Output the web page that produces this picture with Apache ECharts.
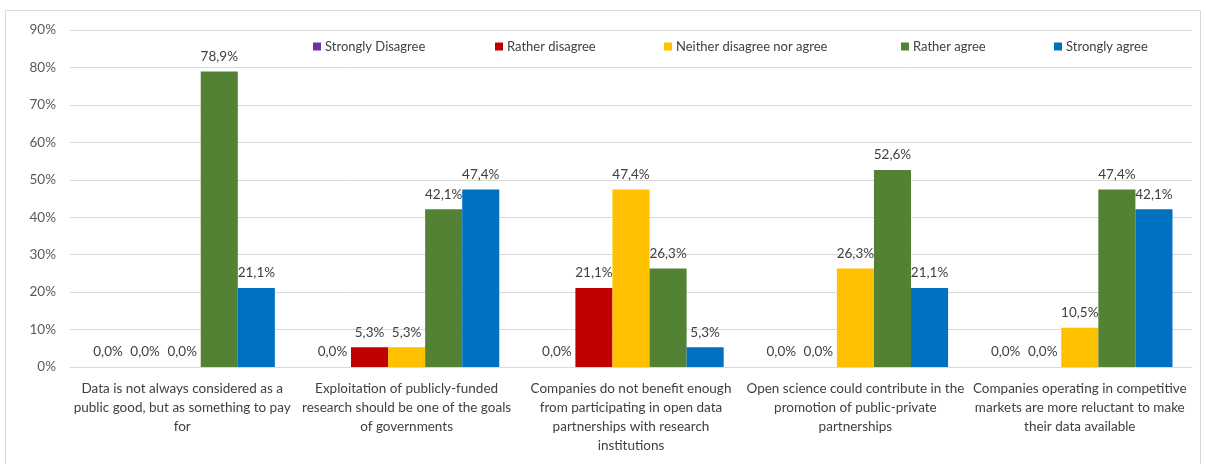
<!DOCTYPE html>
<html>
<head>
<meta charset="utf-8">
<script src="https://cdn.jsdelivr.net/npm/echarts@6/dist/echarts.min.js"></script>
<style>
  html, body { margin: 0; padding: 0; background: #ffffff; }
  #chart { width: 1206px; height: 464px; }
</style>
</head>
<body>
<div id="chart"></div>
<script>
// Statements (wrapped as shown under the axis)
const categories = [
  'Data is not always considered as a\npublic good, but as something to pay\nfor',
  'Exploitation of publicly-funded\nresearch should be one of the goals\nof governments',
  'Companies do not benefit enough\nfrom participating in open data\npartnerships with research\ninstitutions',
  'Open science could contribute in the\npromotion of public-private\npartnerships',
  'Companies operating in competitive\nmarkets are more reluctant to make\ntheir data available'
];

// Answer shares per statement, in percent
const stronglyDisagree = [0.0, 0.0, 0.0, 0.0, 0.0];
const ratherDisagree   = [0.0, 5.3, 21.1, 0.0, 0.0];
const neither          = [0.0, 5.3, 47.4, 26.3, 10.5];
const ratherAgree      = [78.9, 42.1, 26.3, 52.6, 47.4];
const stronglyAgree    = [21.1, 47.4, 5.3, 21.1, 42.1];

const seriesNames = ['Strongly Disagree', 'Rather disagree', 'Neither disagree nor agree', 'Rather agree', 'Strongly agree'];
const seriesValues = [stronglyDisagree, ratherDisagree, neither, ratherAgree, stronglyAgree];
const seriesColors = ['#7030A0', '#C00000', '#FFC000', '#548235', '#0070C0'];
const legendLeft = [313, 495, 664, 901, 1054];

const FONT = 'Lato, "Liberation Sans", sans-serif';
const chart = echarts.init(document.getElementById('chart'), null, { renderer: 'canvas' });

const pct = v => v.toFixed(1).replace('.', ',') + '%';

const option = {
  animation: false,
  textStyle: { fontFamily: FONT },
  graphic: [{
    type: 'rect',
    silent: true,
    shape: { x: 5.5, y: 10.5, width: 1195, height: 480 },
    style: { fill: 'none', stroke: '#d9d9d9', lineWidth: 1 }
  }],
  legend: seriesNames.map((name, i) => ({
    data: [name],
    left: legendLeft[i],
    top: 40,
    padding: 0,
    itemWidth: 8,
    itemHeight: 8,
    itemGap: 0,
    icon: 'rect',
    selectedMode: false,
    textStyle: { fontFamily: FONT, fontSize: 13, color: '#404040', padding: [0, 0, 0, -1] }
  })),
  grid: { left: 70, right: 14, top: 30, bottom: 97, containLabel: false },
  xAxis: {
    type: 'category',
    data: categories,
    axisLine: { lineStyle: { color: '#d9d9d9' } },
    axisTick: { show: false },
    axisLabel: {
      interval: 0,
      margin: 12,
      fontFamily: FONT,
      fontSize: 13.5,
      lineHeight: 19,
      color: '#404040'
    }
  },
  yAxis: {
    type: 'value',
    min: 0,
    max: 90,
    interval: 10,
    axisLine: { show: false },
    axisTick: { show: false },
    splitLine: { lineStyle: { color: '#d9d9d9' } },
    axisLabel: {
      formatter: '{value}%',
      margin: 14,
      fontFamily: FONT,
      fontSize: 13.5,
      color: '#595959'
    }
  },
  series: seriesNames.map((name, i) => ({
    name: name,
    type: 'bar',
    data: seriesValues[i],
    barGap: '0%',
    barCategoryGap: '17.4%',
    itemStyle: { color: seriesColors[i] },
    label: {
      show: true,
      position: 'top',
      distance: 8,
      fontFamily: FONT,
      fontSize: 13.5,
      color: '#404040',
      formatter: p => pct(p.value)
    }
  }))
};

chart.setOption(option);
</script>
</body>
</html>
